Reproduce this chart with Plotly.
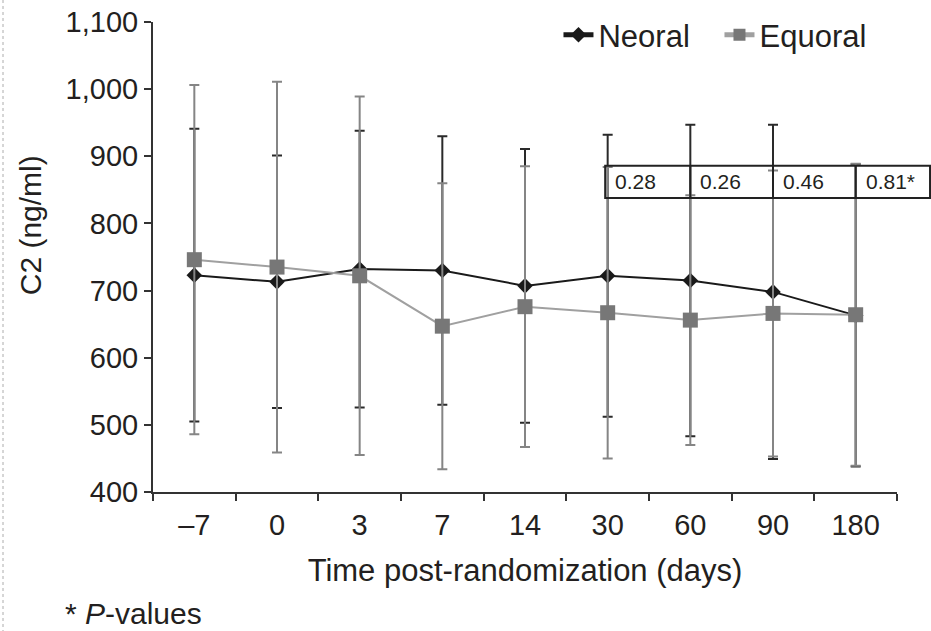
import plotly.graph_objects as go

categories = ["\u20137", "0", "3", "7", "14", "30", "60", "90", "180"]
neoral_mean = [723, 713, 732, 730, 707, 722, 715, 698, 663]
neoral_sd = [218, 188, 206, 200, 204, 210, 232, 249, 225]
equoral_mean = [746, 735, 722, 647, 676, 667, 656, 666, 664]
equoral_sd = [260, 276, 267, 213, 209, 217, 186, 213, 225]
p_values = ["0.28", "0.26", "0.46", "0.81*"]
y_ticks = [400, 500, 600, 700, 800, 900, 1000, 1100]

FONT = "Liberation Sans, Arial, sans-serif"
TXT = "#231f20"
Y0, Y1 = 400, 1100

fig = go.Figure()
fig.add_trace(go.Scatter(
    x=categories, y=neoral_mean, name="Neoral", mode="lines+markers",
    line=dict(color="#1a1a1a", width=2),
    marker=dict(symbol="diamond", size=12, color="#1a1a1a"),
    error_y=dict(type="data", array=neoral_sd, visible=True, color="#2a2a2a", thickness=2, width=5),
))
fig.add_trace(go.Scatter(
    x=categories, y=equoral_mean, name="Equoral", mode="lines+markers",
    line=dict(color="#a0a0a0", width=2),
    marker=dict(symbol="square", size=15, color="#777777"),
    error_y=dict(type="data", array=equoral_sd, visible=True, color="#858585", thickness=2, width=5),
))

n = len(categories)
def xp(idx):
    return (idx + 0.5) / n

def yp(v):
    return (v - Y0) / (Y1 - Y0)

# p-value box
box_lo, box_hi = 838, 886
box_left, box_right = xp(4.97), 1.0444
shapes = [dict(type="rect", xref="paper", yref="paper", x0=box_left, x1=box_right,
               y0=yp(box_lo), y1=yp(box_hi), line=dict(color="#222", width=2), layer="above")]
dividers = [box_left, xp(6), xp(7), xp(8)]
for d in dividers[1:]:
    shapes.append(dict(type="line", xref="paper", yref="paper", x0=d, x1=d,
                       y0=yp(box_lo), y1=yp(box_hi), line=dict(color="#222", width=2), layer="above"))
# dotted border on far left
shapes.append(dict(type="line", xref="paper", yref="paper", x0=-0.2016, x1=-0.2016,
                   y0=-0.30, y1=1.05, line=dict(color="#c8c8c8", width=1.5, dash="dot")))

annotations = []
for d, p in zip(dividers, p_values):
    annotations.append(dict(xref="paper", yref="paper", x=d, y=yp((box_lo + box_hi) / 2),
                            text=p, showarrow=False, xanchor="left", yanchor="middle",
                            xshift=8, font=dict(family=FONT, size=21, color=TXT)))
annotations.append(dict(xref="paper", yref="paper", x=-0.165, y=0.568, text="C2 (ng/ml)",
                        textangle=-90, showarrow=False, xanchor="center", yanchor="middle",
                        font=dict(family=FONT, size=30, color=TXT)))
annotations.append(dict(xref="paper", yref="paper", x=-0.121, y=-0.258, text="* <i>P</i>-values",
                        showarrow=False, xanchor="left", yanchor="middle",
                        font=dict(family=FONT, size=30, color=TXT)))

fig.update_layout(
    width=931, height=631,
    margin=dict(l=153, r=34, t=22, b=139, autoexpand=False),
    paper_bgcolor="white", plot_bgcolor="white",
    font=dict(family=FONT, size=29, color=TXT),
    showlegend=True,
    legend=dict(orientation="h", x=0.545, xanchor="left", y=0.972, yanchor="middle",
                entrywidth=116, entrywidthmode="pixels",
                font=dict(family=FONT, size=31, color=TXT), bgcolor="rgba(0,0,0,0)",
                itemsizing="constant"),
    shapes=shapes, annotations=annotations,
    xaxis=dict(type="category", range=[-0.5, n - 0.5], showgrid=False, zeroline=False,
               showline=True, linecolor="#333", linewidth=2, ticks="outside", ticklen=7,
               tickwidth=2, tickcolor="#333", tickson="boundaries", ticklabelstandoff=6,
               tickfont=dict(family=FONT, size=29, color=TXT),
               title=dict(text="Time post-randomization (days)", standoff=20,
                          font=dict(family=FONT, size=31, color=TXT))),
    yaxis=dict(range=[Y0, Y1], tickvals=y_ticks, tickformat=",d", showgrid=False, zeroline=False,
               showline=True, linecolor="#333", linewidth=2, ticks="outside", ticklen=7,
               tickwidth=2, tickcolor="#333", ticklabelstandoff=0,
               tickfont=dict(family=FONT, size=29, color=TXT)),
)

fig.write_html("out.html")
